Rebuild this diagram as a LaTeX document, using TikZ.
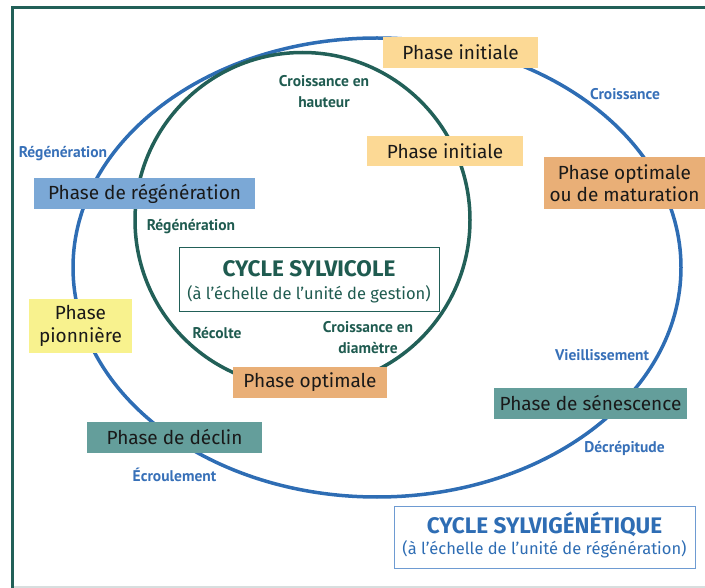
\documentclass[tikz,border=0pt]{standalone}
\usepackage{fontspec}
\setmainfont{Fira Sans}
\newfontfamily\boxfont{Fira Sans}
\newfontfamily\lblfont{PT Sans}
\definecolor{frameGreen}{RGB}{34,96,88}
\definecolor{txtGreen}{RGB}{31,91,80}
\definecolor{cycleBlue}{RGB}{46,109,180}
\definecolor{lblBlue}{RGB}{55,112,184}
\definecolor{titleBoxBlue}{RGB}{110,155,210}
\definecolor{fillInit}{RGB}{252,217,149}
\definecolor{fillOpt}{RGB}{233,175,119}
\definecolor{fillRegen}{RGB}{123,168,214}
\definecolor{fillPion}{RGB}{248,242,142}
\definecolor{fillTeal}{RGB}{100,158,155}
\definecolor{baseGray}{RGB}{215,222,222}
\tikzset{
  phasebox/.style={inner sep=0pt, align=center, text=black!90,
    font=\boxfont\fontsize{19}{22.5}\selectfont},
  greenlbl/.style={text=txtGreen, align=center,
    font=\lblfont\bfseries\fontsize{15.5}{21}\selectfont},
  bluelbl/.style={text=lblBlue, align=center,
    font=\lblfont\bfseries\fontsize{15.5}{18}\selectfont},
  titlebox/.style={fill=white, align=center, inner sep=0pt, line width=1pt}
}
\begin{document}
\begin{tikzpicture}[x=1pt, y=-1pt]
\useasboundingbox (0,0) rectangle (705,588);
% frame
\draw[baseGray, line width=1.5pt] (14,587) -- (705,587);
\draw[frameGreen, line width=2.5pt] (12.5,588) -- (12.5,7.5) -- (705,7.5);

% the two cycles
\draw[cycleBlue, line width=3.5pt] (377,267.5) ellipse [x radius=304, y radius=229.5];
\draw[frameGreen, line width=3.5pt] (302.5,220) circle [radius=167.5];

% phase boxes
\node[phasebox, fill=fillInit, minimum width=155pt, minimum height=31pt] (initA) at (460.5,52.5) {Phase initiale};
\node[phasebox, fill=fillInit, minimum width=156pt, minimum height=30pt] (initB) at (445,151) {Phase initiale};
\node[phasebox, fill=fillOpt, minimum width=161pt, minimum height=52pt] (optA) at (624.5,183) {Phase optimale\\ou de maturation};
\node[phasebox, fill=fillRegen, minimum width=221pt, minimum height=31pt] (regen) at (144.5,193.5) {Phase de régénération};
\node[phasebox, fill=fillPion, minimum width=103pt, minimum height=54pt] (pion) at (80.5,326) {Phase\\pionnière};
\node[phasebox, fill=fillOpt, minimum width=154pt, minimum height=31pt] (optB) at (310,382.5) {Phase optimale};
\node[phasebox, fill=fillTeal, minimum width=175pt, minimum height=31pt] (declin) at (174.5,437.5) {Phase de déclin};
\node[phasebox, fill=fillTeal, minimum width=193pt, minimum height=31pt] (senes) at (590.5,403.5) {Phase de sénescence};

% titles
\node[titlebox, draw=frameGreen, minimum width=260pt, minimum height=64pt] (sylvi) at (309,280) {};
\node[text=txtGreen, font=\boxfont\bfseries\fontsize{22.5}{25}\selectfont] (sylviT) at (309,269) {CYCLE SYLVICOLE};
\node[text=txtGreen, font=\boxfont\fontsize{16.5}{18}\selectfont] (sylviS) at (309,294) {(à l’échelle de l’unité de gestion)};

\node[titlebox, draw=titleBoxBlue, minimum width=301pt, minimum height=62pt] (sylvig) at (544.5,537) {};
\node[text=cycleBlue, font=\boxfont\bfseries\fontsize{22.5}{25}\selectfont] (sylvigT) at (544.5,524) {CYCLE SYLVIGÉNÉTIQUE};
\node[text=cycleBlue, font=\boxfont\fontsize{16.5}{18}\selectfont] (sylvigS) at (544.5,549) {(à l’échelle de l’unité de régénération)};

% process labels, inner cycle
\node[greenlbl] (haut) at (324,92) {Croissance en\\hauteur};
\node[greenlbl] (regG) at (191,227) {Régénération};
\node[greenlbl] (recol) at (217,333) {Récolte};
\node[greenlbl] (diam) at (368,338) {Croissance en\\diamètre};

% process labels, outer cycle
\node[bluelbl] (regB) at (63,154) {Régénération};
\node[bluelbl] (crois) at (625,94) {Croissance};
\node[bluelbl] (vieil) at (602,355) {Vieillissement};
\node[bluelbl] (decr) at (624.5,448) {Décrépitude};
\node[bluelbl] (ecroul) at (174.5,475) {Écroulement};
\end{tikzpicture}
\end{document}
